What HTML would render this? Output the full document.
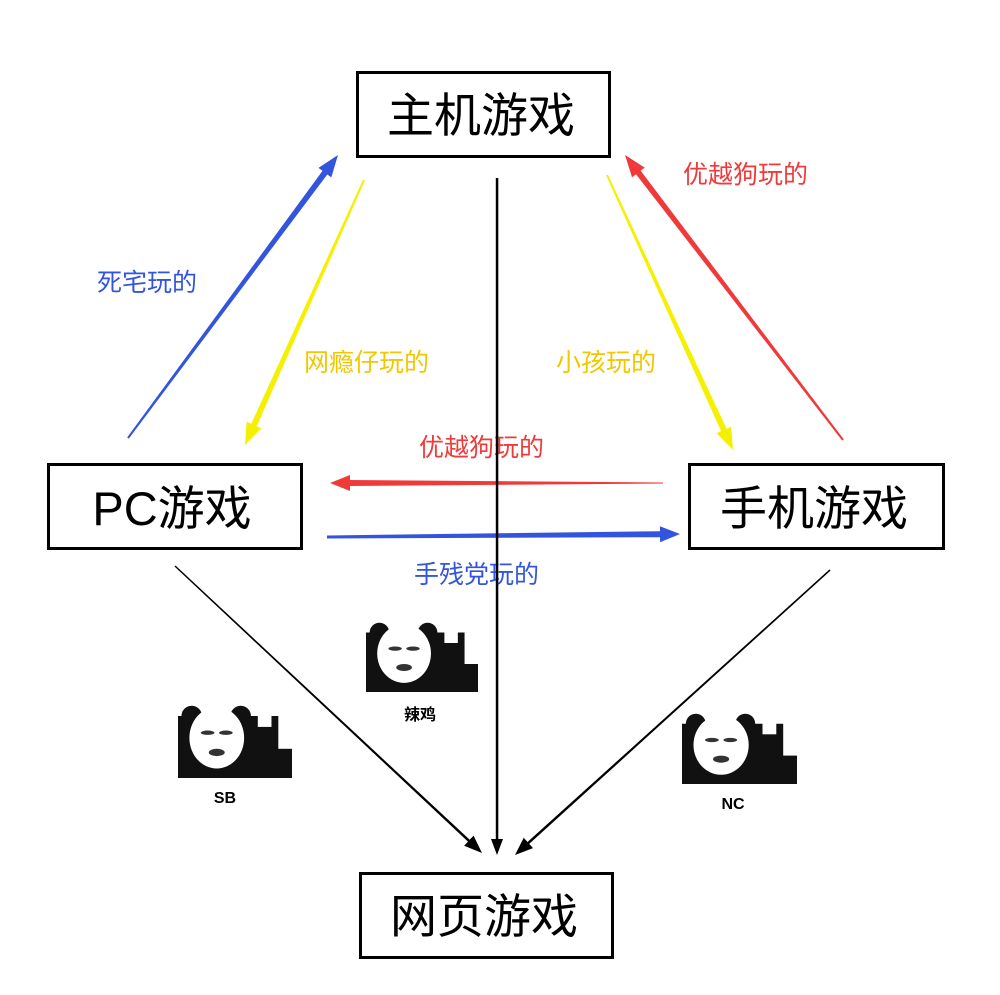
<!DOCTYPE html>
<html><head><meta charset="utf-8"><style>
body{margin:0;background:#fff;width:1000px;height:995px;overflow:hidden}
svg{display:block}
text{font-family:"Liberation Sans","Noto Sans CJK SC",sans-serif}
</style></head><body>
<svg id="s" width="1000" height="995" xmlns="http://www.w3.org/2000/svg">
<g fill="none" stroke="#000" stroke-width="3">
<rect x="357.5" y="72.5" width="252" height="84"/>
<rect x="48.5" y="464.5" width="253" height="84"/>
<rect x="689.5" y="464.5" width="254" height="84"/>
<rect x="360.5" y="873.5" width="252" height="84"/>
</g>
<g font-size="47" text-anchor="middle" fill="#000">
<text x="481" y="132">主机游戏</text>
<text x="172" y="525">PC游戏</text>
<text x="814" y="525">手机游戏</text>
<text x="484" y="933">网页游戏</text>
</g>
<g font-size="25">
<text x="97" y="291" fill="#3355dd">死宅玩的</text>
<text x="304" y="371" fill="#f0c800">网瘾仔玩的</text>
<text x="556" y="371" fill="#f0c800">小孩玩的</text>
<text x="683" y="183" fill="#f03a3a">优越狗玩的</text>
<text x="419" y="456" fill="#f03a3a">优越狗玩的</text>
<text x="414" y="583" fill="#3355dd">手残党玩的</text>
</g>
<g id="arr"></g>
<g id="pandas"></g>
<g font-size="16" font-weight="bold" text-anchor="middle" fill="#000">
<text x="420" y="720">辣鸡</text>
<text x="225" y="803">SB</text>
<text x="733" y="809">NC</text>
</g>
</svg>
<script>
var ns="http://www.w3.org/2000/svg";
function tap(x1,y1,x2,y2,w1,w2,hl,hw,col){
 var dx=x2-x1,dy=y2-y1,L=Math.hypot(dx,dy),ux=dx/L,uy=dy/L,px=-uy,py=ux;
 var bx=x2-ux*hl,by=y2-uy*hl;
 var pts=[[x1+px*w1/2,y1+py*w1/2],[bx+px*w2/2,by+py*w2/2],[bx+px*hw/2,by+py*hw/2],[x2,y2],[bx-px*hw/2,by-py*hw/2],[bx-px*w2/2,by-py*w2/2],[x1-px*w1/2,y1-py*w1/2]];
 var p=document.createElementNS(ns,"polygon");
 p.setAttribute("points",pts.map(function(a){return a[0].toFixed(1)+","+a[1].toFixed(1)}).join(" "));
 p.setAttribute("fill",col);document.getElementById("arr").appendChild(p);
}
tap(128,438,338,155,2,6,22,16,"#3355dd");
tap(364,180,245,445,2,6,22,16,"#f5f000");
tap(607,175,733,450,2,6,22,16,"#f5f000");
tap(843,440,625,155,2,6,22,16,"#f03a3a");
tap(663,483,330,483,1,6,20,16,"#f03a3a");
tap(327,537,680,534,3,6,20,16,"#3355dd");
tap(497,178,497,855,2.5,2.5,16,12,"#000");
tap(175,566,482,853,1.5,2.5,18,14,"#000");
tap(830,570,515,855,1.5,2.5,18,14,"#000");
function panda(x,y,w,h){
 var g=document.getElementById("pandas");
 g.innerHTML+='<rect x="'+x+'" y="'+(y+h*0.15)+'" width="'+w+'" height="'+(h*0.85)+'" fill="#111"/>'+
 '<rect x="'+x+'" y="'+y+'" width="'+w+'" height="'+(h*0.15)+'" fill="#fff"/>'+
 '<circle cx="'+(x+w*0.12)+'" cy="'+(y+h*0.15)+'" r="'+(h*0.14)+'" fill="#111"/>'+
 '<circle cx="'+(x+w*0.55)+'" cy="'+(y+h*0.15)+'" r="'+(h*0.14)+'" fill="#111"/>'+
 '<ellipse cx="'+(x+w*0.34)+'" cy="'+(y+h*0.45)+'" rx="'+(w*0.24)+'" ry="'+(h*0.42)+'" fill="#fff"/>'+
 '<rect x="'+(x+w*0.7)+'" y="'+y+'" width="'+(w*0.12)+'" height="'+(h*0.3)+'" fill="#fff"/>'+
 '<rect x="'+(x+w*0.88)+'" y="'+y+'" width="'+(w*0.12)+'" height="'+(h*0.6)+'" fill="#fff"/>'+
 '<ellipse cx="'+(x+w*0.26)+'" cy="'+(y+h*0.38)+'" rx="'+(w*0.06)+'" ry="'+(h*0.03)+'" fill="#333"/>'+
 '<ellipse cx="'+(x+w*0.42)+'" cy="'+(y+h*0.38)+'" rx="'+(w*0.06)+'" ry="'+(h*0.03)+'" fill="#333"/>'+
 '<ellipse cx="'+(x+w*0.34)+'" cy="'+(y+h*0.65)+'" rx="'+(w*0.07)+'" ry="'+(h*0.05)+'" fill="#333"/>';
}
panda(366,622,112,70);
panda(178,705,114,73);
panda(682,713,115,71);
</script>
</body></html>
